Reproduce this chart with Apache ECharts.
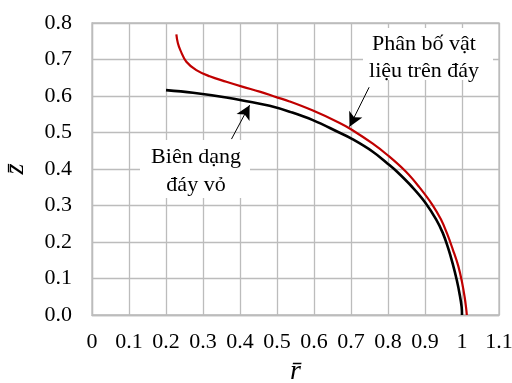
<!DOCTYPE html>
<html>
<head>
<meta charset="utf-8">
<script src="https://cdn.jsdelivr.net/npm/echarts@6/dist/echarts.min.js"></script>
<style>
	html, body { margin: 0; padding: 0; background: #fff; }
	#chart { width: 512px; height: 383px; }
</style>
</head>
<body>
<div id="chart"></div>
<script>
// bien dang day vo (black)
var rShell = [0.2, 0.273, 0.363, 0.426, 0.48, 0.534, 0.597, 0.668, 0.7, 0.758, 0.8, 0.826, 0.866, 0.9, 0.93, 0.948, 0.962, 0.975, 0.986, 0.994, 0.999, 1.0];
var zShell = [0.616, 0.609, 0.596, 0.584, 0.573, 0.557, 0.534, 0.5, 0.484, 0.448, 0.414, 0.391, 0.35, 0.309, 0.262, 0.225, 0.185, 0.14, 0.095, 0.055, 0.022, 0];
// phan bo vat lieu tren day (red)
var rMat = [0.228, 0.232, 0.239, 0.255, 0.282, 0.318, 0.363, 0.408, 0.453, 0.498, 0.534, 0.597, 0.668, 0.7, 0.758, 0.8, 0.848, 0.884, 0.92, 0.943, 0.96, 0.975, 0.99, 1.0, 1.007, 1.011, 1.013];
var zMat = [0.769, 0.745, 0.725, 0.694, 0.671, 0.654, 0.639, 0.625, 0.612, 0.597, 0.585, 0.56, 0.527, 0.509, 0.47, 0.437, 0.393, 0.351, 0.302, 0.262, 0.222, 0.18, 0.134, 0.09, 0.05, 0.02, 0];

function pairs(xs, ys) {
	var out = [];
	for (var i = 0; i < xs.length; i++) out.push([xs[i], ys[i]]);
	return out;
}

var serif = '"Liberation Serif", "Times New Roman", serif';
var gridColor = '#bcbcbc';

var chart = echarts.init(document.getElementById('chart'));
var option = {
	animation: false,
	grid: { left: 92, right: 13, top: 23, bottom: 68, containLabel: false, outerBoundsMode: 'none',
		show: true, borderColor: gridColor, borderWidth: 1.3 },
	xAxis: {
		type: 'value', min: 0, max: 1.1, interval: 0.1,
		name: 'r\u0304', nameLocation: 'middle', nameGap: 40,
		nameTextStyle: { fontFamily: serif, fontSize: 28, fontStyle: 'italic', color: '#000' },
		axisLine: { show: true, lineStyle: { color: gridColor, width: 1.3 } },
		axisTick: { show: false },
		axisLabel: { margin: 16, fontFamily: serif, fontSize: 22, color: '#000',
			formatter: function(v) { return String(Math.round(v * 10) / 10); } },
		splitLine: { show: true, lineStyle: { color: gridColor, width: 1.3 } }
	},
	yAxis: {
		type: 'value', min: 0, max: 0.8, interval: 0.1,
		name: 'z\u0304', nameLocation: 'middle', nameGap: 62,
		nameTextStyle: { fontFamily: serif, fontSize: 28, fontStyle: 'italic', color: '#000' },
		axisLine: { show: true, lineStyle: { color: gridColor, width: 1.3 } },
		axisTick: { show: false },
		axisLabel: { margin: 20, fontFamily: serif, fontSize: 22, color: '#000',
			formatter: function(v) { return v.toFixed(1); } },
		splitLine: { show: true, lineStyle: { color: gridColor, width: 1.3 } }
	},
	series: [{
		name: 'Biên dạng đáy vỏ',
		type: 'line',
		data: pairs(rShell, zShell),
		showSymbol: false,
		smooth: 0.4,
		lineStyle: { color: '#000', width: 2.6 },
		z: 3,
		markLine: {
			silent: true, symbol: ['none', 'arrow'], symbolSize: [11, 14],
			label: { show: false },
			lineStyle: { color: '#000', width: 1, type: 'solid' },
			data: [[{ coord: [0.377, 0.482] }, { coord: [0.426, 0.575] }]]
		}
	}, {
		name: 'Phân bố vật liệu trên đáy',
		type: 'line',
		data: pairs(rMat, zMat),
		showSymbol: false,
		smooth: 0.4,
		lineStyle: { color: '#c00000', width: 2.2 },
		z: 4,
		markLine: {
			silent: true, symbol: ['none', 'arrow'], symbolSize: [11, 14],
			label: { show: false },
			lineStyle: { color: '#000', width: 1, type: 'solid' },
			data: [[{ coord: [0.749, 0.624] }, { coord: [0.696, 0.516] }]]
		}
	}],
	graphic: [{
		type: 'rect', z: 10,
		shape: { x: 140, y: 140, width: 110, height: 58 },
		style: { fill: '#fff' }
	}, {
		type: 'text', z: 11, x: 196, y: 171,
		style: { text: 'Biên dạng\nđáy vỏ', textAlign: 'center', textVerticalAlign: 'middle',
			font: '22px ' + serif, lineHeight: 28, fill: '#000' }
	}, {
		type: 'rect', z: 10,
		shape: { x: 363, y: 28, width: 130, height: 52 },
		style: { fill: '#fff' }
	}, {
		type: 'text', z: 11, x: 424, y: 58,
		style: { text: 'Phân bố vật\nliệu trên đáy', textAlign: 'center', textVerticalAlign: 'middle',
			font: '22px ' + serif, lineHeight: 27, fill: '#000' }
	}]
};
chart.setOption(option);
</script>
</body>
</html>
